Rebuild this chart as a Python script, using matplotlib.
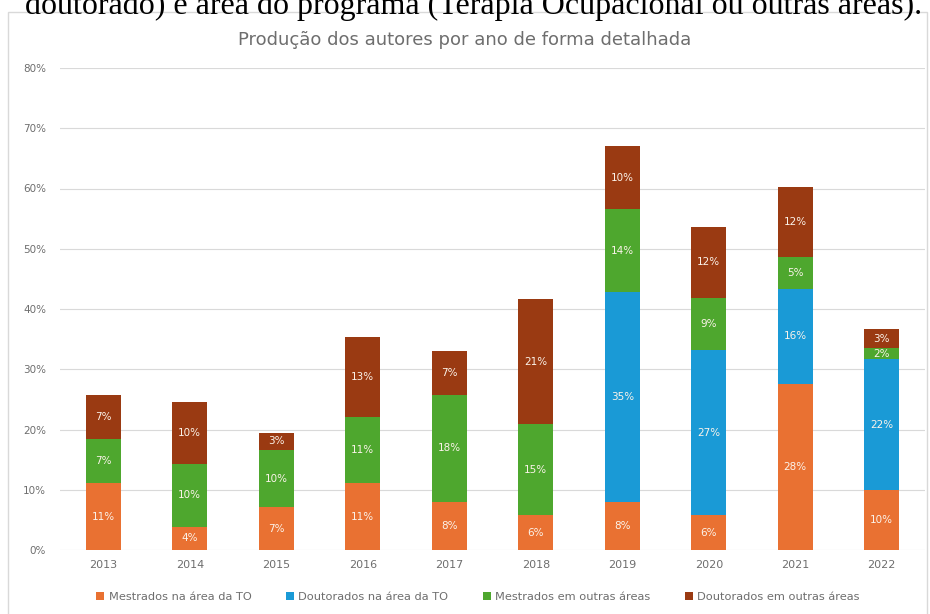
import matplotlib
matplotlib.use("Agg")
import matplotlib.pyplot as plt
from matplotlib.patches import Rectangle
from matplotlib.ticker import FuncFormatter

# Dados (em %)
anos = ["2013", "2014", "2015", "2016", "2017", "2018", "2019", "2020", "2021", "2022"]
mestrado_to = [11.1, 3.9, 7.1, 11.1, 8.0, 5.8, 7.9, 5.8, 27.6, 9.9]
doutorado_to = [0, 0, 0, 0, 0, 0, 34.9, 27.4, 15.7, 21.8]
mestrado_outras = [7.4, 10.3, 9.5, 10.9, 17.7, 15.1, 13.8, 8.7, 5.3, 1.8]
doutorado_outras = [7.3, 10.3, 2.9, 13.3, 7.4, 20.7, 10.4, 11.7, 11.6, 3.2]
rotulos_legenda = ["Mestrados na área da TO", "Doutorados na área da TO",
                   "Mestrados em outras áreas", "Doutorados em outras áreas"]
cores = ["#E97132", "#1A9AD6", "#4EA72E", "#9A3A12"]

series = [mestrado_to, doutorado_to, mestrado_outras, doutorado_outras]

fig = plt.figure(figsize=(9.3, 6.14), dpi=100)
ax = fig.add_axes([60 / 930, 64 / 614, 865 / 930, 482 / 614])

# moldura do gráfico
fig.patches.append(Rectangle((8 / 930, -0.05), 0.997 - 8 / 930, 1.05 - 12 / 614,
                             transform=fig.transFigure, fill=False,
                             edgecolor="#D9D9D9", linewidth=1))

# legenda da figura (cortada no topo)
fig.text(25 / 930, 1 - 14 / 614,
         "doutorado) e área do programa (Terapia Ocupacional ou outras áreas).",
         family="Liberation Serif", fontsize=23, va="baseline", ha="left")

x = list(range(len(anos)))
base = [0] * len(anos)
for valores, cor, nome in zip(series, cores, rotulos_legenda):
    barras = ax.bar(x, valores, 0.4, bottom=base, color=cor, label=nome, zorder=2)
    for b, v, y0 in zip(barras, valores, base):
        if v > 0:
            ax.text(b.get_x() + b.get_width() / 2, y0 + v / 2, f"{v:.0f}%",
                    ha="center", va="center", fontsize=7.5, color="#FBF3EA", zorder=3)
    base = [a + c for a, c in zip(base, valores)]

ax.set_xlim(-0.5, len(anos) - 0.5)
ax.set_ylim(0, 80)
ax.set_yticks(range(0, 81, 10))
ax.yaxis.set_major_formatter(FuncFormatter(lambda v, p: f"{v:.0f}%"))
ax.set_xticks(x)
ax.set_xticklabels(anos)
ax.tick_params(length=0, colors="#6E6E6E", labelsize=7.5)
ax.tick_params(axis="y", pad=10)
ax.tick_params(axis="x", pad=7, labelsize=8)
ax.grid(axis="y", color="#D9D9D9", linewidth=0.8, zorder=0)
for s in ax.spines.values():
    s.set_visible(False)

fig.text(0.5, 1 - 40 / 614, "Produção dos autores por ano de forma detalhada",
         ha="center", va="center", fontsize=13, color="#6E6E6E")

fig.legend(loc="center", bbox_to_anchor=(478 / 930, 1 - 597 / 614), ncol=4,
           frameon=False, fontsize=8.2, handlelength=0.7, handleheight=0.7,
           handletextpad=0.4, columnspacing=3.0, labelcolor="#6E6E6E")

fig.savefig("out.png", dpi=100)
